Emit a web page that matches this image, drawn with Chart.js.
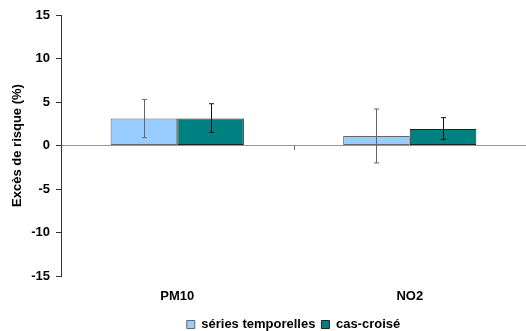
<!DOCTYPE html>
<html>
<head>
<meta charset="utf-8">
<script src="https://cdn.jsdelivr.net/npm/chart.js@4/dist/chart.umd.min.js"></script>
<style>
    body { margin: 0; background: #fff; }
    #cadre { width: 526px; height: 331px; }
</style>
</head>
<body>
<div id="cadre"><canvas id="graphique"></canvas></div>
<script>
// Données
const polluants = ['PM10', 'NO2'];
const seriesTemporelles = [3.1, 1.1];
const casCroise = [3.1, 1.9];
// Intervalles de confiance (bas, haut)
const icBasSeries = [0.9, -2.0];
const icHautSeries = [5.3, 4.2];
const icBasCas = [1.5, 0.7];
const icHautCas = [4.8, 3.2];
const ticksY = [-15, -10, -5, 0, 5, 10, 15];

Chart.defaults.font.family = "'Liberation Sans', Arial, sans-serif";
Chart.defaults.font.size = 13;
Chart.defaults.font.weight = 'bold';
Chart.defaults.color = '#000';

// Barres d'erreur dessinées à partir des échelles
const barresErreur = {
    id: 'barresErreur',
    afterDatasetsDraw(chart) {
        const ctx = chart.ctx;
        const y = chart.scales.y;
        chart.data.datasets.forEach((ds, i) => {
            const meta = chart.getDatasetMeta(i);
            ctx.save();
            ctx.strokeStyle = ds.couleurErreur;
            ctx.lineWidth = 1;
            meta.data.forEach((barre, j) => {
                const x = Math.round(barre.x) + 0.5;
                const haut = y.getPixelForValue(ds.icHaut[j]);
                const bas = y.getPixelForValue(ds.icBas[j]);
                ctx.beginPath();
                ctx.moveTo(x, haut);
                ctx.lineTo(x, bas);
                ctx.moveTo(x - 2.5, haut);
                ctx.lineTo(x + 2.5, haut);
                ctx.moveTo(x - 2.5, bas);
                ctx.lineTo(x + 2.5, bas);
                ctx.stroke();
            });
            ctx.restore();
        });
        // petits traits entre les catégories, sous la ligne du zéro
        const xs = chart.scales.x;
        const y0 = Math.round(y.getPixelForValue(0));
        ctx.save();
        ctx.strokeStyle = '#666';
        ctx.beginPath();
        for (let k = 1; k < polluants.length; k++) {
            const xm = Math.round((xs.getPixelForValue(k - 1) + xs.getPixelForValue(k)) / 2) + 0.5;
            ctx.moveTo(xm, y0);
            ctx.lineTo(xm, y0 + 4);
        }
        ctx.stroke();
        ctx.restore();
    }
};

new Chart(document.getElementById('graphique'), {
    type: 'bar',
    data: {
        labels: polluants,
        datasets: [{
            label: 'séries temporelles',
            data: seriesTemporelles,
            icBas: icBasSeries,
            icHaut: icHautSeries,
            couleurErreur: '#666',
            backgroundColor: '#99CCFF',
            borderColor: '#666',
            borderWidth: 1,
            borderSkipped: false
        }, {
            label: 'cas-croisé',
            data: casCroise,
            icBas: icBasCas,
            icHaut: icHautCas,
            couleurErreur: '#111',
            backgroundColor: '#008080',
            borderColor: '#222',
            borderWidth: 1,
            borderSkipped: false
        }]
    },
    options: {
        responsive: true,
        maintainAspectRatio: false,
        animation: false,
        layout: { padding: { top: 15, right: -3, bottom: -10, left: 0 } },
        categoryPercentage: 0.573,
        barPercentage: 1,
        plugins: {
            tooltip: { enabled: false },
            legend: {
                position: 'bottom',
                fullSize: false,
                labels: {
                    boxWidth: 8,
                    boxHeight: 8,
                    padding: 6,
                    color: '#000',
                    font: { size: 13, weight: 'bold' }
                }
            }
        },
        scales: {
            x: {
                grid: { display: false },
                border: { display: false },
                ticks: { padding: 5 },
                afterFit(scale) { scale.height = 36; }
            },
            y: {
                min: -15,
                max: 15,
                afterBuildTicks(scale) { scale.ticks = ticksY.map(v => ({ value: v })); },
                afterFit(scale) { scale.width = 61; },
                title: {
                    display: true,
                    text: 'Excès de risque (%)',
                    padding: { top: 10, bottom: 0 },
                    font: { size: 13, weight: 'bold' }
                },
                ticks: { padding: 6 },
                border: { color: '#333', width: 1 },
                grid: {
                    tickLength: 5,
                    tickColor: '#333',
                    color: c => (c.tick && c.tick.value === 0) ? '#999' : 'rgba(0,0,0,0)'
                }
            }
        }
    },
    plugins: [barresErreur]
});
</script>
</body>
</html>
